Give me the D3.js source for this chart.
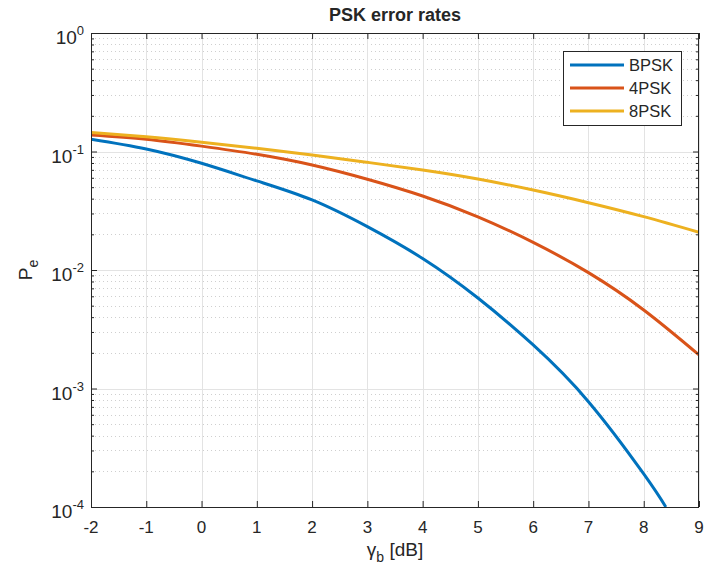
<!DOCTYPE html>
<html>
<head>
<meta charset="utf-8">
<script src="https://cdn.jsdelivr.net/npm/d3@7"></script>
<style>
  body { margin: 0; background: #fff; }
  text { font-family: "Liberation Sans", Arial, Helvetica, sans-serif; fill: #262626; }
</style>
</head>
<body>
<svg id="chart" width="705" height="579"></svg>
<script>
// values
const xTicks = [-2, -1, 0, 1, 2, 3, 4, 5, 6, 7, 8, 9];
const yDecades = [-4, -3, -2, -1, 0];

const bpskX = [-2, -1, 0, 1, 2, 3, 4, 5, 6, 7, 8, 8.4];
const bpskY = [0.127, 0.105, 0.0795, 0.0565, 0.039, 0.0232, 0.0125, 0.0058, 0.00233, 0.000774, 0.00019, 0.0001];

const psk4X = [-2, -1, 0, 1, 2, 3, 4, 5, 6, 7, 8, 9];
const psk4Y = [0.138, 0.127, 0.111, 0.0947, 0.0769, 0.0583, 0.0421, 0.0281, 0.0171, 0.0095, 0.0046, 0.00192];

const psk8X = [-2, -1, 0, 1, 2, 3, 4, 5, 6, 7, 8, 9];
const psk8Y = [0.145, 0.133, 0.1196, 0.1064, 0.0934, 0.081, 0.0698, 0.0586, 0.0473, 0.037, 0.0282, 0.0208];

const seriesNames = ["BPSK", "4PSK", "8PSK"];
const seriesColors = ["#0072BD", "#D95319", "#EDB120"];

// layout
const pLeft = 91, pRight = 699, pTop = 33, pBottom = 507;
const svg = d3.select("#chart");

const x = d3.scaleLinear().domain([-2, 9]).range([pLeft, pRight]);
const y = d3.scaleLog().domain([1e-4, 1]).range([pBottom, pTop]);

// minor values on the log axis
const minorVals = [];
yDecades.slice(0, -1).forEach(d => {
    for (let m = 2; m <= 9; m++) minorVals.push(m * Math.pow(10, d));
});

// grid
const grid = svg.append("g");
grid.selectAll(".minor").data(minorVals).enter().append("line")
    .attr("x1", pLeft).attr("x2", pRight)
    .attr("y1", d => Math.round(y(d)) + 0.5).attr("y2", d => Math.round(y(d)) + 0.5)
    .attr("stroke", "#cfcfcf").attr("stroke-width", 1).attr("stroke-dasharray", "1,3");
grid.selectAll(".gx").data(xTicks).enter().append("line")
    .attr("x1", d => Math.round(x(d)) + 0.5).attr("x2", d => Math.round(x(d)) + 0.5)
    .attr("y1", pTop).attr("y2", pBottom)
    .attr("stroke", "#e3e3e3").attr("stroke-width", 1);
grid.selectAll(".gy").data(yDecades).enter().append("line")
    .attr("x1", pLeft).attr("x2", pRight)
    .attr("y1", d => Math.round(y(Math.pow(10, d))) + 0.5).attr("y2", d => Math.round(y(Math.pow(10, d))) + 0.5)
    .attr("stroke", "#e3e3e3").attr("stroke-width", 1);

// clip for the curves
svg.append("clipPath").attr("id", "plotclip").append("rect")
    .attr("x", pLeft).attr("y", pTop).attr("width", pRight - pLeft).attr("height", pBottom - pTop);

const line = d3.line()
    .x(d => x(d[0]))
    .y(d => y(d[1]))
    .curve(d3.curveNatural);

const series = [
    d3.zip(bpskX, bpskY),
    d3.zip(psk4X, psk4Y),
    d3.zip(psk8X, psk8Y)
];

svg.append("g").attr("clip-path", "url(#plotclip)")
    .selectAll("path").data(series).enter().append("path")
    .attr("d", line)
    .attr("fill", "none")
    .attr("stroke", (d, i) => seriesColors[i])
    .attr("stroke-width", 3);

// axes (ticks inward, no domain lines; box drawn separately)
const axisColor = "#262626";
function styleAxis(g) {
    g.select(".domain").remove();
    g.selectAll(".tick line").attr("stroke", axisColor);
}
svg.append("g").attr("transform", `translate(0,${pBottom})`)
    .call(d3.axisBottom(x).tickValues(xTicks).tickSize(-6).tickFormat(""))
    .call(styleAxis);
svg.append("g").attr("transform", `translate(0,${pTop})`)
    .call(d3.axisTop(x).tickValues(xTicks).tickSize(-6).tickFormat(""))
    .call(styleAxis);

const decadeVals = yDecades.map(d => Math.pow(10, d));
svg.append("g").attr("transform", `translate(${pLeft},0)`)
    .call(d3.axisLeft(y).tickValues(decadeVals).tickSize(-6).tickFormat(""))
    .call(styleAxis);
svg.append("g").attr("transform", `translate(${pRight},0)`)
    .call(d3.axisRight(y).tickValues(decadeVals).tickSize(-6).tickFormat(""))
    .call(styleAxis);
svg.append("g").attr("transform", `translate(${pLeft},0)`)
    .call(d3.axisLeft(y).tickValues(minorVals).tickSize(-3).tickFormat(""))
    .call(styleAxis);
svg.append("g").attr("transform", `translate(${pRight},0)`)
    .call(d3.axisRight(y).tickValues(minorVals).tickSize(-3).tickFormat(""))
    .call(styleAxis);

// box
svg.append("rect")
    .attr("x", pLeft + 0.5).attr("y", pTop + 0.5)
    .attr("width", pRight - pLeft - 1).attr("height", pBottom - pTop)
    .attr("fill", "none").attr("stroke", axisColor).attr("stroke-width", 1);

// x tick labels
svg.append("g").selectAll("text").data(xTicks).enter().append("text")
    .attr("x", d => x(d)).attr("y", pBottom + 26)
    .attr("text-anchor", "middle").attr("font-size", 17)
    .text(d => d);

// y tick labels, 10 with superscript exponent
const yl = svg.append("g").selectAll("text").data(yDecades).enter().append("text")
    .attr("x", pLeft - 7).attr("y", d => y(Math.pow(10, d)) + 11)
    .attr("text-anchor", "end").attr("font-size", 19);
yl.append("tspan").text("10");
yl.append("tspan").attr("dy", -9).attr("font-size", 13).text(d => d);

// title
svg.append("text")
    .attr("x", (pLeft + pRight) / 2).attr("y", 21)
    .attr("text-anchor", "middle").attr("font-size", 18).attr("font-weight", "bold")
    .text("PSK error rates");

// axis labels
const xl = svg.append("text")
    .attr("x", (pLeft + pRight) / 2).attr("y", 556)
    .attr("text-anchor", "middle").attr("font-size", 19);
xl.append("tspan").text("γ");
xl.append("tspan").attr("dy", 6).attr("font-size", 14).text("b");
xl.append("tspan").attr("dy", -6).text(" [dB]");

const ylab = svg.append("text")
    .attr("transform", `translate(32,${(pTop + pBottom) / 2}) rotate(-90)`)
    .attr("text-anchor", "middle").attr("font-size", 19);
ylab.append("tspan").text("P");
ylab.append("tspan").attr("dy", 6).attr("font-size", 14).text("e");

// legend
const legend = svg.append("g");
legend.append("rect")
    .attr("x", 563.5).attr("y", 51.5).attr("width", 118).attr("height", 74)
    .attr("fill", "#fff").attr("stroke", axisColor).attr("stroke-width", 1);
const rows = legend.selectAll(".row").data(seriesNames).enter().append("g")
    .attr("transform", (d, i) => `translate(0,${65 + i * 23})`);
rows.append("line")
    .attr("x1", 570).attr("x2", 624).attr("y1", 0).attr("y2", 0)
    .attr("stroke", (d, i) => seriesColors[i]).attr("stroke-width", 3);
rows.append("text")
    .attr("x", 629).attr("y", 6).attr("font-size", 16.5)
    .text(d => d);
</script>
</body>
</html>
